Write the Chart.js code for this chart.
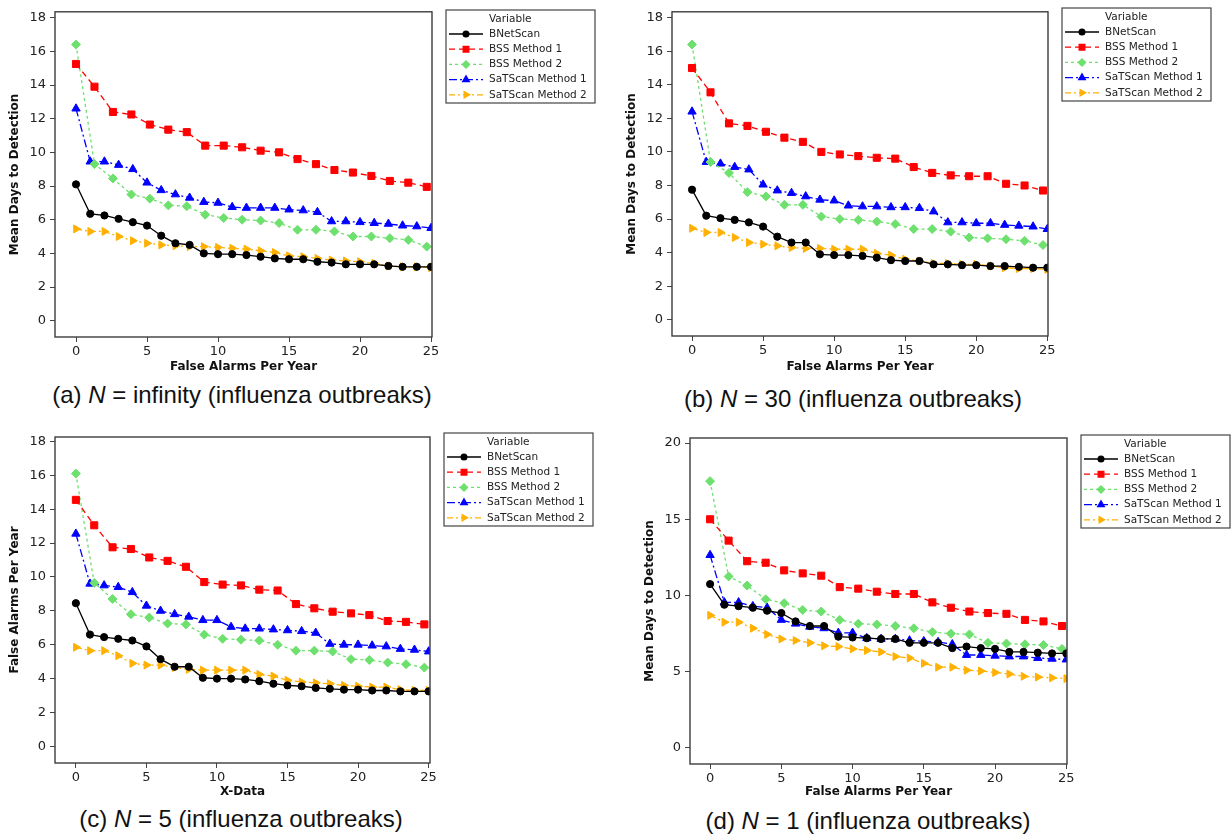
<!DOCTYPE html>
<html>
<head>
<meta charset="utf-8">
<script src="https://cdn.jsdelivr.net/npm/chart.js@4.4.1/dist/chart.umd.min.js"></script>
<style>
  html, body { margin: 0; padding: 0; background: #fff; }
  #page { position: relative; width: 1231px; height: 837px; overflow: hidden; }
  .panel { position: absolute; }
  .cap {
    position: absolute;
    font-family: "Liberation Sans", Arial, sans-serif;
    font-size: 24px;
    color: #111;
    white-space: nowrap;
    transform: translateX(-50%);
  }
</style>
</head>
<body>
<div id="page">
  <canvas id="chartA" class="panel" style="left:0;top:0" width="615" height="375"></canvas>
  <canvas id="chartB" class="panel" style="left:615px;top:0" width="616" height="375"></canvas>
  <canvas id="chartC" class="panel" style="left:0;top:425px" width="615" height="375"></canvas>
  <canvas id="chartD" class="panel" style="left:615px;top:425px" width="616" height="375"></canvas>
  <div class="cap" style="left:242px;top:381px">(a) <i>N</i> = infinity (influenza outbreaks)</div>
  <div class="cap" style="left:853px;top:385px">(b) <i>N</i> = 30 (influenza outbreaks)</div>
  <div class="cap" style="left:241px;top:805px">(c) <i>N</i> = 5 (influenza outbreaks)</div>
  <div class="cap" style="left:868px;top:807px">(d) <i>N</i> = 1 (influenza outbreaks)</div>
</div>
<script>
// x positions (false alarms per year)
const faWhole = [0, 1, 2, 3, 4, 5, 6, 7, 8, 9, 10, 11, 12, 13, 14, 15, 16, 17, 18, 19, 20, 21, 22, 23, 24, 25];
const faStep = [0, 1.3, 2.6, 3.9, 5.2, 6.5, 7.8, 9.1, 10.4, 11.7, 13, 14.3, 15.6, 16.9, 18.2, 19.5, 20.8, 22.1, 23.4, 24.7];

const seriesNames = ['BNetScan', 'BSS Method 1', 'BSS Method 2', 'SaTScan Method 1', 'SaTScan Method 2'];

// (a) N = infinity
const bnetA = [8.1, 6.35, 6.25, 6.05, 5.85, 5.65, 5.05, 4.6, 4.5, 4.0, 3.95, 3.95, 3.9, 3.8, 3.7, 3.65, 3.65, 3.5, 3.45, 3.35, 3.35, 3.35, 3.25, 3.2, 3.2, 3.2];
const bss1A = [15.25, 13.9, 12.4, 12.25, 11.65, 11.35, 11.2, 10.4, 10.4, 10.3, 10.1, 10.0, 9.6, 9.3, 8.95, 8.8, 8.6, 8.3, 8.2, 7.95];
const bss2A = [16.4, 9.3, 8.45, 7.5, 7.25, 6.85, 6.8, 6.3, 6.1, 6.0, 5.95, 5.8, 5.4, 5.4, 5.3, 5.0, 5.0, 4.9, 4.8, 4.4];
const sat1A = [12.6, 9.45, 9.45, 9.25, 9.0, 8.2, 7.75, 7.5, 7.3, 7.05, 7.0, 6.75, 6.7, 6.7, 6.7, 6.6, 6.55, 6.45, 5.9, 5.9, 5.85, 5.8, 5.75, 5.65, 5.6, 5.5];
const sat2A = [5.45, 5.3, 5.3, 5.0, 4.75, 4.6, 4.5, 4.45, 4.4, 4.4, 4.35, 4.3, 4.25, 4.15, 4.05, 3.85, 3.8, 3.7, 3.6, 3.55, 3.5, 3.4, 3.25, 3.2, 3.2, 3.15];

// (b) N = 30
const bnetB = [7.75, 6.2, 6.05, 5.95, 5.8, 5.55, 4.95, 4.6, 4.6, 3.9, 3.85, 3.85, 3.8, 3.7, 3.55, 3.5, 3.5, 3.3, 3.3, 3.25, 3.25, 3.2, 3.2, 3.15, 3.1, 3.1];
const bss1B = [15.0, 13.55, 11.7, 11.55, 11.2, 10.85, 10.6, 10.0, 9.85, 9.75, 9.65, 9.6, 9.1, 8.75, 8.6, 8.55, 8.55, 8.1, 8.0, 7.7];
const bss2B = [16.4, 9.4, 8.75, 7.6, 7.35, 6.85, 6.85, 6.15, 6.0, 5.95, 5.85, 5.7, 5.4, 5.4, 5.25, 4.9, 4.85, 4.8, 4.7, 4.45];
const sat1B = [12.4, 9.4, 9.3, 9.1, 8.95, 8.05, 7.7, 7.55, 7.35, 7.15, 7.1, 6.8, 6.75, 6.75, 6.7, 6.7, 6.65, 6.45, 5.8, 5.8, 5.75, 5.75, 5.65, 5.6, 5.55, 5.4];
const sat2B = [5.45, 5.2, 5.2, 4.9, 4.6, 4.5, 4.4, 4.3, 4.25, 4.25, 4.2, 4.2, 4.2, 3.95, 3.85, 3.6, 3.5, 3.35, 3.35, 3.3, 3.3, 3.2, 3.1, 3.05, 3.05, 3.0];

// (c) N = 5
const bnetC = [8.45, 6.6, 6.45, 6.35, 6.25, 5.9, 5.15, 4.7, 4.7, 4.05, 4.0, 4.0, 3.95, 3.85, 3.7, 3.6, 3.55, 3.45, 3.4, 3.35, 3.35, 3.3, 3.3, 3.25, 3.25, 3.25];
const bss1C = [14.55, 13.05, 11.75, 11.65, 11.15, 10.95, 10.6, 9.7, 9.55, 9.5, 9.25, 9.2, 8.4, 8.15, 7.95, 7.85, 7.75, 7.4, 7.35, 7.2];
const bss2C = [16.1, 9.65, 8.7, 7.8, 7.6, 7.25, 7.2, 6.6, 6.35, 6.3, 6.25, 6.0, 5.65, 5.65, 5.6, 5.15, 5.1, 4.95, 4.85, 4.65];
const sat1C = [12.55, 9.6, 9.5, 9.4, 9.1, 8.3, 8.0, 7.8, 7.65, 7.45, 7.45, 7.05, 6.95, 6.95, 6.9, 6.85, 6.8, 6.7, 6.05, 6.0, 6.0, 5.95, 5.9, 5.75, 5.7, 5.6];
const sat2C = [5.85, 5.65, 5.65, 5.35, 4.9, 4.8, 4.8, 4.65, 4.55, 4.5, 4.5, 4.5, 4.5, 4.25, 4.15, 3.9, 3.8, 3.75, 3.7, 3.6, 3.55, 3.5, 3.5, 3.35, 3.3, 3.3];

// (d) N = 1
const bnetD = [10.75, 9.4, 9.3, 9.2, 9.0, 8.85, 8.3, 8.0, 8.0, 7.3, 7.25, 7.2, 7.15, 7.15, 6.9, 6.9, 6.9, 6.55, 6.65, 6.55, 6.5, 6.3, 6.3, 6.25, 6.2, 6.2];
const bss1D = [15.0, 13.6, 12.25, 12.15, 11.65, 11.45, 11.3, 10.55, 10.45, 10.25, 10.1, 10.1, 9.55, 9.2, 8.95, 8.85, 8.8, 8.4, 8.3, 8.0];
const bss2D = [17.5, 11.25, 10.65, 9.75, 9.5, 9.05, 8.95, 8.4, 8.15, 8.1, 8.0, 7.85, 7.6, 7.5, 7.45, 6.9, 6.85, 6.8, 6.75, 6.5];
const sat1D = [12.65, 9.55, 9.55, 9.3, 9.2, 8.4, 8.15, 7.95, 7.85, 7.55, 7.55, 7.2, 7.15, 7.15, 7.05, 7.0, 6.95, 6.8, 6.1, 6.1, 6.05, 6.0, 6.0, 5.9, 5.85, 5.8];
const sat2D = [8.7, 8.25, 8.25, 7.85, 7.45, 7.15, 7.05, 6.9, 6.7, 6.65, 6.5, 6.4, 6.3, 6.0, 5.9, 5.55, 5.3, 5.3, 5.1, 5.05, 4.95, 4.85, 4.7, 4.65, 4.6, 4.55];

// line look of each series, same order as seriesNames
const looks = [
  { color: '#000000', dash: [], point: 'circle', radius: 3.6, rot: 0 },
  { color: '#ff0000', dash: [6, 4], point: 'rect', radius: 5, rot: 0 },
  { color: '#6ee06e', dash: [3, 3], point: 'rectRot', radius: 4.5, rot: 0 },
  { color: '#0000ff', dash: [8, 3, 2, 3], point: 'triangle', radius: 4.8, rot: 0 },
  { color: '#ffb000', dash: [6, 3, 2, 3], point: 'triangle', radius: 4.6, rot: 90 }
];

const FONT = 'DejaVu Sans';

const framePlugin = {
  id: 'frame',
  afterDatasetsDraw(chart) {
    const { ctx, chartArea: a } = chart;
    ctx.save();
    ctx.strokeStyle = '#3c3c3c';
    ctx.lineWidth = 1.4;
    ctx.strokeRect(a.left, a.top, a.right - a.left, a.bottom - a.top);
    ctx.restore();
  }
};

// boxed legend with a "Variable" heading, placed right of the plot area
const boxLegend = {
  id: 'boxLegend',
  afterDraw(chart, args, opts) {
    const ctx = chart.ctx;
    const x = chart.chartArea.right + opts.gap;
    const y = opts.top;
    ctx.save();
    ctx.strokeStyle = '#444';
    ctx.lineWidth = 1.2;
    ctx.strokeRect(x, y, opts.width, opts.height);
    ctx.font = '10.5px "' + FONT + '"';
    ctx.textBaseline = 'middle';
    ctx.fillStyle = '#222';
    ctx.fillText('Variable', x + 43, y + 9);
    chart.data.datasets.forEach((ds, i) => {
      const cy = y + 24 + i * 15.2;
      ctx.strokeStyle = ds.borderColor;
      ctx.lineWidth = ds.borderWidth;
      ctx.setLineDash(ds.borderDash);
      ctx.beginPath();
      ctx.moveTo(x + 3, cy);
      ctx.lineTo(x + 37, cy);
      ctx.stroke();
      ctx.setLineDash([]);
      ctx.fillStyle = ds.pointBackgroundColor;
      ctx.strokeStyle = ds.pointBorderColor;
      Chart.helpers.drawPoint(ctx, {
        pointStyle: ds.pointStyle,
        radius: ds.pointRadius * 0.8,
        rotation: ds.pointRotation,
        borderWidth: 1
      }, x + 20, cy);
      ctx.fillStyle = '#222';
      ctx.fillText(ds.label, x + 43, cy);
    });
    ctx.restore();
  }
};

function makeDatasets(cols) {
  return cols.map((c, i) => ({
    label: seriesNames[i],
    data: c.xs.map((x, k) => ({ x: x, y: c.ys[k] })),
    borderColor: looks[i].color,
    backgroundColor: looks[i].color,
    pointBackgroundColor: looks[i].color,
    pointBorderColor: looks[i].color,
    borderWidth: 1.3,
    borderDash: looks[i].dash,
    pointStyle: looks[i].point,
    pointRadius: looks[i].radius,
    pointRotation: looks[i].rot,
    pointBorderWidth: 1,
    tension: 0,
    fill: false
  }));
}

function makeChart(id, p) {
  const tickFont = { family: FONT, size: 13 };
  const titleFont = { family: FONT, size: 12, weight: 'bold' };
  return new Chart(document.getElementById(id), {
    type: 'line',
    data: { datasets: makeDatasets(p.cols) },
    options: {
      responsive: false,
      animation: false,
      layout: { padding: p.pad },
      plugins: {
        legend: { display: false },
        tooltip: { enabled: false },
        boxLegend: { gap: 14, top: p.legendTop, width: 149, height: 93 }
      },
      scales: {
        x: {
          type: 'linear',
          min: p.xMin,
          max: p.xMax,
          afterFit: s => { s.height = p.xAxisH; },
          ticks: { stepSize: 5, includeBounds: false, color: '#222', font: tickFont, padding: 2, maxRotation: 0 },
          grid: { drawOnChartArea: false, drawTicks: true, tickLength: 5, color: '#444' },
          border: { display: false },
          title: { display: true, text: p.xTitle, color: '#111', font: titleFont, padding: { top: 0, bottom: 1 } }
        },
        y: {
          type: 'linear',
          min: p.yMin,
          max: p.yMax,
          afterFit: s => { s.width = 55; },
          ticks: { stepSize: p.yStep, includeBounds: false, color: '#222', font: tickFont, padding: 4 },
          grid: { drawOnChartArea: false, drawTicks: true, tickLength: 5, color: '#444' },
          border: { display: false },
          title: { display: true, text: p.yTitle, color: '#111', font: titleFont, padding: { top: 8, bottom: 0 } }
        }
      }
    },
    plugins: [framePlugin, boxLegend]
  });
}

makeChart('chartA', {
  cols: [
    { xs: faWhole, ys: bnetA }, { xs: faStep, ys: bss1A }, { xs: faStep, ys: bss2A },
    { xs: faWhole, ys: sat1A }, { xs: faWhole, ys: sat2A }
  ],
  pad: { left: 0, top: 10, right: 183, bottom: 0 }, xAxisH: 38, legendTop: 10,
  xMin: -1.48, xMax: 25.07, yMin: -0.97, yMax: 18.35, yStep: 2,
  xTitle: 'False Alarms Per Year', yTitle: 'Mean Days to Detection'
});

makeChart('chartB', {
  cols: [
    { xs: faWhole, ys: bnetB }, { xs: faStep, ys: bss1B }, { xs: faStep, ys: bss2B },
    { xs: faWhole, ys: sat1B }, { xs: faWhole, ys: sat2B }
  ],
  pad: { left: 2, top: 10, right: 183, bottom: 0 }, xAxisH: 39, legendTop: 8,
  xMin: -1.41, xMax: 25.05, yMin: -0.97, yMax: 18.35, yStep: 2,
  xTitle: 'False Alarms Per Year', yTitle: 'Mean Days to Detection'
});

makeChart('chartC', {
  cols: [
    { xs: faWhole, ys: bnetC }, { xs: faStep, ys: bss1C }, { xs: faStep, ys: bss2C },
    { xs: faWhole, ys: sat1C }, { xs: faWhole, ys: sat2C }
  ],
  pad: { left: 0, top: 12, right: 185, bottom: 0 }, xAxisH: 37, legendTop: 8,
  xMin: -1.48, xMax: 25.1, yMin: -0.98, yMax: 18.26, yStep: 2,
  xTitle: 'X-Data', yTitle: 'False Alarms Per Year'
});

makeChart('chartD', {
  cols: [
    { xs: faWhole, ys: bnetD }, { xs: faStep, ys: bss1D }, { xs: faStep, ys: bss2D },
    { xs: faWhole, ys: sat1D }, { xs: faWhole, ys: sat2D }
  ],
  pad: { left: 20, top: 13, right: 164, bottom: 0 }, xAxisH: 36, legendTop: 10,
  xMin: -1.41, xMax: 25.05, yMin: -1.05, yMax: 20.33, yStep: 5,
  xTitle: 'False Alarms Per Year', yTitle: 'Mean Days to Detection'
});
</script>
</body>
</html>
